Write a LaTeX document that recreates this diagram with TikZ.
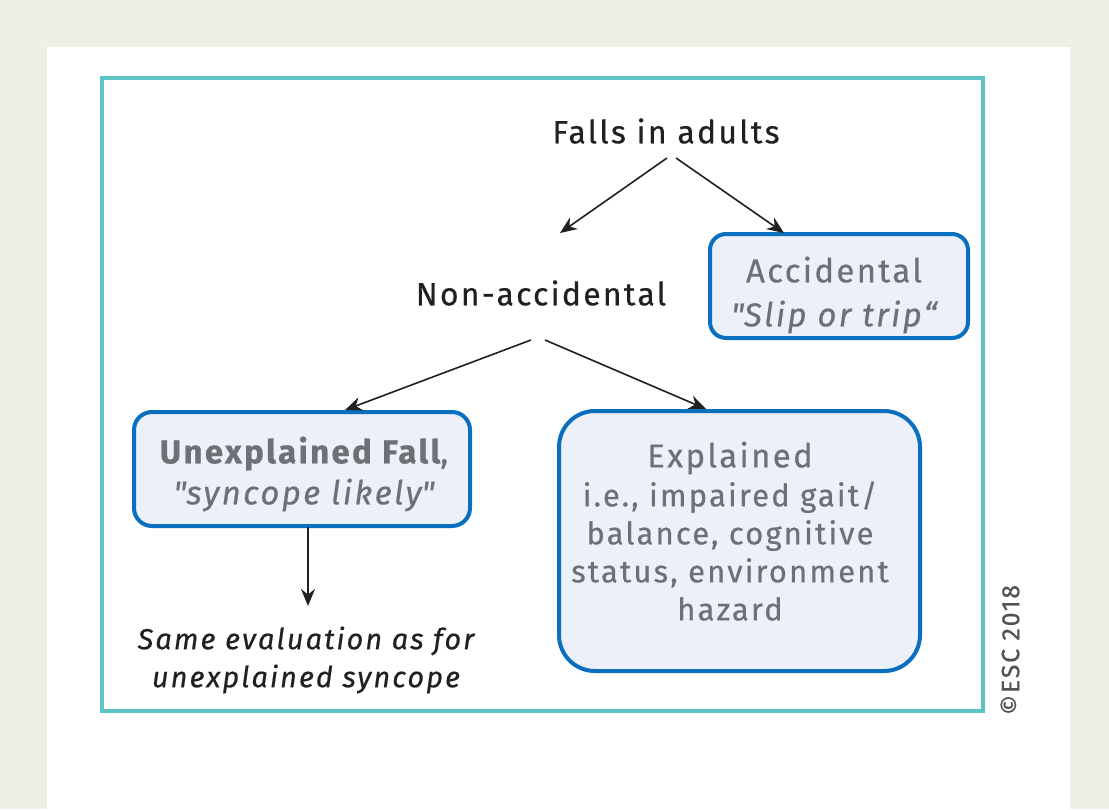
\documentclass[tikz,border=0pt]{standalone}
\usepackage{fontspec}
\setmainfont{Fira Sans}[LetterSpace=7, FakeBold=0.5]
\usetikzlibrary{arrows.meta}
\definecolor{framebg}{HTML}{EFEFE5}
\definecolor{tealline}{HTML}{5CC3C6}
\definecolor{boxblue}{HTML}{0B6FBF}
\definecolor{boxfill}{HTML}{ECF0F8}
\definecolor{greytext}{HTML}{6E7075}
\definecolor{ink}{HTML}{231F20}
\begin{document}
\begin{tikzpicture}[x=1pt,y=-1pt,
  txt/.style={inner sep=0pt, align=center, text=ink, font=\fontsize{32}{38}\selectfont},
  boxtxt/.style={txt, text=greytext},
  bluebox/.style={draw=boxblue, fill=boxfill, line width=4pt, rounded corners=#1, inner sep=0pt},
  arr/.style={draw=ink, line width=1.6pt, -{Stealth[length=17pt,width=14pt]}}]
  % page frame
  \fill[framebg] (0,0) rectangle (1109,809);
  \useasboundingbox (0,0) rectangle (1109,809);
  \fill[white] (47,47) rectangle (1070,809);
  \draw[tealline, line width=4pt] (102,78) rectangle (983,711);

  % boxes
  \node[bluebox=16pt, minimum width=258pt, minimum height=104pt] (accbox) at (839,286) {};
  \node[bluebox=18pt, minimum width=336pt, minimum height=114pt] (unexbox) at (302,469) {};
  \node[bluebox=36pt, minimum width=361pt, minimum height=260pt] (expbox) at (739.5,541) {};

  % texts
  \node[txt] (falls) at (666,131) {Falls in adults};
  \node[txt] (nonacc) at (541,293) {Non-accidental};
  \node[boxtxt, font=\fontsize{33}{44}\selectfont] (acc) at (834,295) {Accidental\\\itshape \textquotedbl Slip or trip“};
  \node[boxtxt, font=\fontsize{33}{41}\selectfont] (unex) at (304,474) {\textbf{Unexplained Fall},\\\itshape \textquotedbl syncope likely\textquotedbl};
  \node[boxtxt, font=\fontsize{33}{38}\selectfont] (explhead) at (730,458) {Explained};
  \node[boxtxt, font=\fontsize{31}{38}\selectfont] (expl) at (730,551) {i.e., impaired gait/\\balance, cognitive\\status, environment\\hazard};
  \node[txt, font=\fontsize{29}{38}\selectfont\itshape] (same) at (306,660) {Same evaluation as for\\unexplained syncope};
  \node[inner sep=0pt, text=black!68, rotate=90, font=\fontsize{25}{30}\selectfont] (copy) at (1010,650) {©ESC 2018};

  % connector end points
  \coordinate (f1) at (667,158);
  \coordinate (f2) at (676,158);
  \coordinate (n1) at (531,340);
  \coordinate (n2) at (545,340);
  \coordinate (t1) at (560,233);
  \coordinate (t2) at (784,233);
  \coordinate (t3) at (345,410);
  \coordinate (t4) at (706,409);
  \coordinate (u1) at (308,527);
  \coordinate (s1) at (308,606);

  \draw[arr] (f1) -- (t1);
  \draw[arr] (f2) -- (t2);
  \draw[arr] (n1) -- (t3);
  \draw[arr] (n2) -- (t4);
  \draw[arr] (u1) -- (s1);
\end{tikzpicture}
\end{document}
